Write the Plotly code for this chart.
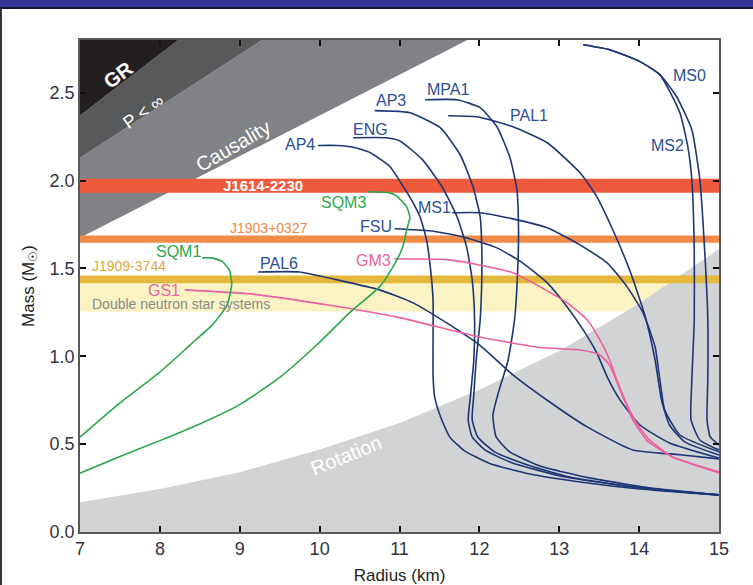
import plotly.graph_objects as go

# ---------------- data ----------------
x_ticks = [7, 8, 9, 10, 11, 12, 13, 14, 15]
y_ticks = [0.0, 0.5, 1.0, 1.5, 2.0, 2.5]

# excluded regions (boundary lines)
gr_R = [7.0, 8.23, 7.0]
gr_M = [2.37, 2.8, 2.8]
pinf_R = [7.0, 9.28, 8.23, 7.0]
pinf_M = [2.13, 2.8, 2.8, 2.37]
caus_R = [7.0, 11.85, 9.28, 7.0]
caus_M = [1.675, 2.8, 2.8, 2.13]
rot_R = [7.0, 8.0, 9.0, 10.0, 11.0, 12.0, 13.0, 14.0, 15.0, 15.0, 7.0]
rot_M = [0.17, 0.245, 0.34, 0.47, 0.62, 0.81, 1.03, 1.30, 1.61, 0.0, 0.0]

# measured mass bands
band_names = ["DNS", "J1909-3744", "J1903+0327", "J1614-2230"]
band_lo = [1.255, 1.415, 1.646, 1.93]
band_hi = [1.42, 1.46, 1.688, 2.01]
band_colors = ["#fbf3c4", "#e3b83c", "#f08c48", "#ef5a3c"]

# equations of state (leader start + curve)
AP4_R = [9.98, 10.22, 10.42, 10.63, 10.88, 11.0, 11.15, 11.26, 11.34, 11.39, 11.42, 11.42, 11.42, 11.44, 11.51, 11.63, 11.82, 12.13, 12.63, 13.26, 14.01, 15.0]
AP4_M = [2.20, 2.20, 2.19, 2.16, 2.08, 2.0, 1.89, 1.79, 1.66, 1.49, 1.32, 1.09, 0.89, 0.77, 0.66, 0.54, 0.46, 0.39, 0.33, 0.285, 0.245, 0.21]
ENG_R = [10.42, 10.82, 11.0, 11.29, 11.54, 11.72, 11.84, 11.91, 11.94, 11.93, 11.89, 11.86, 11.91, 12.07, 12.38, 13.01, 14.01, 15.0]
ENG_M = [2.244, 2.244, 2.227, 2.118, 1.959, 1.794, 1.623, 1.435, 1.207, 0.979, 0.78, 0.638, 0.541, 0.467, 0.399, 0.319, 0.251, 0.211]
AP3_R = [10.69, 11.13, 11.51, 11.76, 11.92, 12.01, 12.03, 12.03, 12.01, 11.96, 11.93, 11.91, 11.98, 12.19, 12.57, 13.13, 14.01, 15.0]
AP3_M = [2.398, 2.386, 2.301, 2.147, 1.965, 1.794, 1.623, 1.435, 1.207, 0.979, 0.78, 0.638, 0.541, 0.456, 0.387, 0.313, 0.251, 0.211]
MPA1_R = [11.32, 11.72, 12.01, 12.22, 12.38, 12.47, 12.49, 12.48, 12.44, 12.36, 12.23, 12.17, 12.21, 12.38, 12.76, 13.38, 14.13, 15.0]
MPA1_M = [2.46, 2.46, 2.415, 2.306, 2.135, 1.948, 1.72, 1.492, 1.207, 0.979, 0.78, 0.666, 0.541, 0.456, 0.376, 0.308, 0.251, 0.211]
PAL1_R = [11.61, 11.97, 12.42, 12.85, 13.26, 13.47, 13.67, 13.88, 14.07, 14.2, 14.28, 14.38, 14.57, 15.0]
PAL1_M = [2.369, 2.363, 2.306, 2.215, 2.044, 1.909, 1.72, 1.492, 1.236, 0.979, 0.752, 0.609, 0.513, 0.438]
MS1_R = [11.66, 12.01, 12.42, 12.85, 13.26, 13.6, 13.85, 14.05, 14.2, 14.26, 14.32, 14.51, 15.0]
MS1_M = [1.817, 1.817, 1.782, 1.731, 1.634, 1.532, 1.395, 1.247, 1.054, 0.866, 0.695, 0.552, 0.456]
FSU_R = [10.94, 11.38, 11.79, 12.22, 12.54, 12.85, 13.1, 13.3, 13.47, 13.6, 13.76, 14.01, 14.38, 15.0]
FSU_M = [1.726, 1.714, 1.68, 1.617, 1.532, 1.418, 1.281, 1.15, 1.019, 0.883, 0.752, 0.609, 0.507, 0.421]
PAL6_R = [9.23, 9.75, 10.22, 10.75, 11.17, 11.59, 12.0, 12.42, 12.88, 13.35, 13.92, 14.51, 15.0]
PAL6_M = [1.48, 1.48, 1.435, 1.378, 1.304, 1.19, 1.065, 0.894, 0.74, 0.598, 0.467, 0.44, 0.416]
MS0_R = [13.3, 13.63, 14.01, 14.26, 14.47, 14.66, 14.76, 14.82, 14.86, 14.86, 14.85, 14.89, 15.0]
MS0_M = [2.773, 2.745, 2.677, 2.603, 2.477, 2.289, 2.005, 1.606, 1.207, 0.866, 0.638, 0.541, 0.495]
MS2_R = [13.3, 13.63, 14.01, 14.26, 14.51, 14.61, 14.66, 14.69, 14.69, 14.66, 14.65, 14.76, 15.0]
MS2_M = [2.773, 2.745, 2.677, 2.603, 2.386, 2.192, 2.005, 1.606, 1.207, 0.866, 0.638, 0.524, 0.467]
GM3_R = [10.94, 11.59, 12.0, 12.42, 12.76, 13.1, 13.35, 13.51, 13.63, 13.72, 13.85, 13.98, 14.13, 14.42, 15.0]
GM3_M = [1.555, 1.55, 1.52, 1.475, 1.395, 1.304, 1.207, 1.093, 0.98, 0.866, 0.723, 0.61, 0.524, 0.427, 0.342]
GS1_R = [8.31, 9.13, 10.13, 11.0, 12.0, 12.76, 13.26, 13.5, 13.63, 13.76, 13.92, 14.1, 14.42, 15.0]
GS1_M = [1.378, 1.355, 1.29, 1.22, 1.11, 1.05, 1.036, 1.01, 0.95, 0.81, 0.64, 0.52, 0.427, 0.336]
SQM1_R = [8.53, 8.65, 8.78, 8.87, 8.9, 8.84, 8.66, 8.38, 8.0, 7.5, 7.0]
SQM1_M = [1.56, 1.56, 1.54, 1.49, 1.41, 1.29, 1.18, 1.065, 0.91, 0.735, 0.54]
SQM3_R = [10.6, 10.88, 10.97, 11.09, 11.13, 11.09, 11.04, 10.92, 10.75, 10.38, 10.0, 9.5, 9.0, 8.5, 8.0, 7.5, 7.0]
SQM3_M = [1.936, 1.93, 1.91, 1.85, 1.79, 1.72, 1.62, 1.51, 1.395, 1.25, 1.08, 0.88, 0.725, 0.615, 0.52, 0.43, 0.335]

# labels
eos_labels = ["AP4", "ENG", "AP3", "MPA1", "PAL1", "MS0", "MS2", "MS1", "FSU", "PAL6", "GM3", "GS1", "SQM1", "SQM3"]
eos_label_R = [9.75, 10.64, 10.89, 11.61, 12.62, 14.63, 14.36, 11.44, 10.70, 9.49, 10.67, 8.05, 8.23, 10.30]
eos_label_M = [2.204, 2.289, 2.454, 2.517, 2.369, 2.597, 2.198, 1.845, 1.737, 1.526, 1.543, 1.375, 1.595, 1.874]

NAVY = "#1d3676"
NAVY_TXT = "#2c4f95"
PINK = "#ec5fa0"
GREEN = "#2aa84a"
FONT = "Liberation Sans, Arial, sans-serif"

fig = go.Figure()


def region(xs, ys, color):
    fig.add_trace(go.Scatter(x=xs, y=ys, fill="toself", fillcolor=color, mode="lines",
                             line=dict(width=0, color=color), hoverinfo="skip", showlegend=False))


region(caus_R, caus_M, "#808285")
region(pinf_R, pinf_M, "#58595b")
region(gr_R, gr_M, "#231f20")
region([7, 15, 15, 7], [band_lo[0], band_lo[0], band_hi[0], band_hi[0]], band_colors[0])
region(rot_R, rot_M, "#d1d3d4")
for i in range(1, 4):
    region([7, 15, 15, 7], [band_lo[i], band_lo[i], band_hi[i], band_hi[i]], band_colors[i])

curves = [
    (AP4_R, AP4_M, NAVY), (ENG_R, ENG_M, NAVY), (AP3_R, AP3_M, NAVY), (MPA1_R, MPA1_M, NAVY),
    (PAL1_R, PAL1_M, NAVY), (MS1_R, MS1_M, NAVY), (FSU_R, FSU_M, NAVY), (PAL6_R, PAL6_M, NAVY),
    (MS0_R, MS0_M, NAVY), (MS2_R, MS2_M, NAVY),
    (GM3_R, GM3_M, PINK), (GS1_R, GS1_M, PINK),
    (SQM1_R, SQM1_M, GREEN), (SQM3_R, SQM3_M, GREEN),
]
for xs, ys, c in curves:
    fig.add_trace(go.Scatter(x=xs, y=ys, mode="lines",
                             line=dict(color=c, width=1.6, shape="spline", smoothing=0.5),
                             hoverinfo="skip", showlegend=False))

label_colors = [NAVY_TXT] * 10 + [PINK, PINK, GREEN, GREEN]
ann = []
for t, r, m, c in zip(eos_labels, eos_label_R, eos_label_M, label_colors):
    ann.append(dict(x=r, y=m, text=t, font=dict(family=FONT, size=16, color=c)))

ann += [
    dict(x=7.476, y=2.602, text="<b>GR</b>", textangle=-37, font=dict(family=FONT, size=20, color="white")),
    dict(x=7.79, y=2.392, text="P &lt; ∞", textangle=-35, font=dict(family=FONT, size=18, color="white")),
    dict(x=8.915, y=2.198, text="Causality", textangle=-30, font=dict(family=FONT, size=20, color="white")),
    dict(x=9.29, y=1.97, text="<b>J1614-2230</b>", font=dict(family=FONT, size=15, color="white")),
    dict(x=9.365, y=1.731, text="J1903+0327", font=dict(family=FONT, size=14, color="#f0884a")),
    dict(x=7.613, y=1.515, text="J1909-3744", font=dict(family=FONT, size=14, color="#dfa83a")),
    dict(x=8.264, y=1.296, text="Double neutron star systems", font=dict(family=FONT, size=14, color="#8a8a8a")),
    dict(x=10.342, y=0.438, text="Rotation", textangle=-22, font=dict(family=FONT, size=20, color="white")),
]
for a in ann:
    a["showarrow"] = False
    a["xref"] = "x"
    a["yref"] = "y"
    a["xanchor"] = "center"
    a["yanchor"] = "middle"

# page frame (blue top bar, dark left edge)
shapes = [
    dict(type="rect", xref="paper", yref="paper", x0=-0.3, x1=1.3, y0=1.0671, y1=1.2,
         fillcolor="#343497", line=dict(width=0), layer="above"),
    dict(type="rect", xref="paper", yref="paper", x0=-0.3, x1=1.3, y0=1.0630, y1=1.0671,
         fillcolor="#15153a", line=dict(width=0), layer="above"),
    dict(type="rect", xref="paper", yref="paper", x0=-0.2, x1=-0.1221, y0=-0.2, y1=1.0630,
         fillcolor="#333333", line=dict(width=0), layer="above"),
]

axis_common = dict(showline=True, linecolor="#5a5a5a", linewidth=1.5, mirror="ticks", ticks="inside",
                   ticklen=6, tickwidth=2, tickcolor="#111", showgrid=False, zeroline=False,
                   automargin=False, tickfont=dict(family=FONT, size=18, color="#333344"))

fig.update_layout(
    width=753, height=585,
    margin=dict(l=80, r=34, t=40, b=53),
    paper_bgcolor="white", plot_bgcolor="white",
    xaxis=dict(range=[7, 15], tickvals=x_ticks, ticktext=[str(v) for v in x_ticks],
               title=dict(text="Radius (km)", font=dict(family=FONT, size=17, color="#222"), standoff=11),
               **axis_common),
    yaxis=dict(range=[0, 2.8], tickvals=y_ticks, ticktext=[f"{v:.1f}" for v in y_ticks],
               title=dict(text="Mass (M<sub>☉</sub>)", font=dict(family=FONT, size=17, color="#222"), standoff=11),
               **axis_common),
    annotations=ann,
    shapes=shapes,
)

fig.write_html("out.html", config={"displayModeBar": False},
               post_script="document.body.style.margin='0';document.body.style.overflow='hidden';")
